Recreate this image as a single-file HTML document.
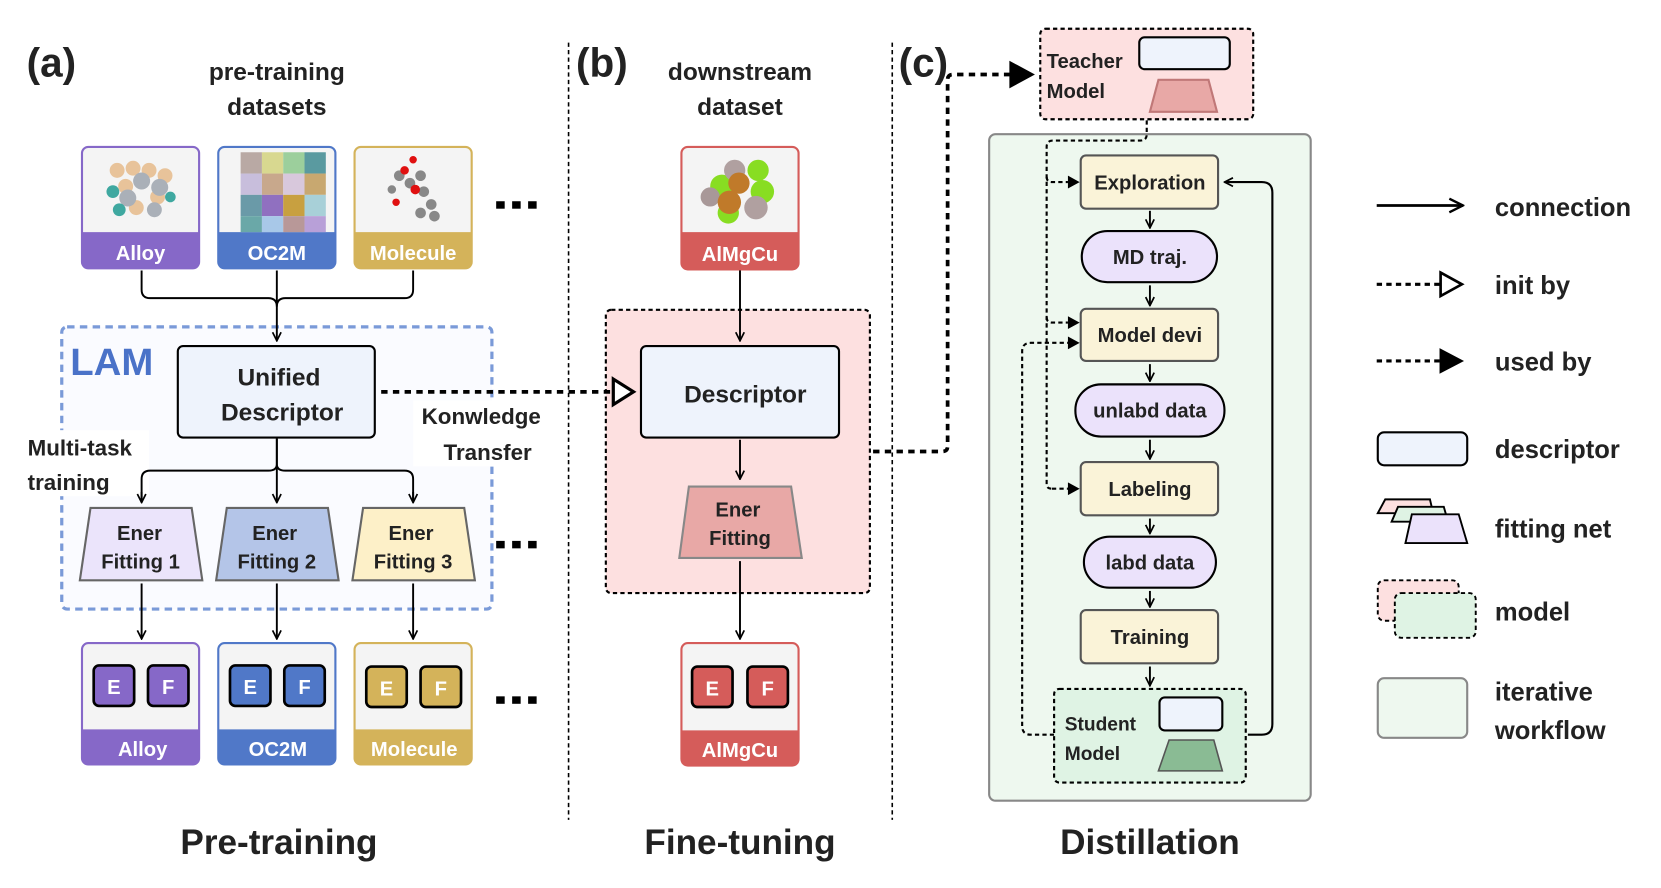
<!DOCTYPE html>
<html><head><meta charset="utf-8"><style>
html,body{margin:0;padding:0;background:#fff;}
svg{display:block;}
text{font-family:"Liberation Sans",sans-serif;font-weight:bold;fill:#222;}
.w{font-family:"Liberation Sans",sans-serif;}
</style></head><body>
<svg width="1661" height="888" viewBox="0 0 1560 834" preserveAspectRatio="none" xmlns="http://www.w3.org/2000/svg">
<defs>
<marker id="ar" viewBox="0 0 10 10" refX="9" refY="5" markerWidth="10" markerHeight="10" orient="auto" markerUnits="userSpaceOnUse"><path d="M1,1 L9,5 L1,9" fill="none" stroke="#000" stroke-width="1.6"/></marker>
<marker id="ar2" viewBox="0 0 10 10" refX="9" refY="5" markerWidth="16" markerHeight="16" orient="auto" markerUnits="userSpaceOnUse"><path d="M1,1 L9,5 L1,9" fill="none" stroke="#000" stroke-width="1.4"/></marker>
</defs>

<!-- separators -->
<line x1="534" y1="40" x2="534" y2="770" stroke="#000" stroke-width="1.5" stroke-dasharray="4,3"/>
<line x1="838" y1="40" x2="838" y2="770" stroke="#000" stroke-width="1.5" stroke-dasharray="4,3"/>

<!-- (a) -->
<text x="25" y="72" font-size="38" class="w">(a)</text>
<text x="260" y="75" font-size="23" text-anchor="middle">pre-training</text>
<text x="260" y="108" font-size="23" text-anchor="middle">datasets</text>

<g>
<rect x="77" y="138" width="110" height="114" rx="6" fill="#f4f4f4" stroke="#8668c8" stroke-width="2"/>
<path d="M77,218 H187 V246 a6,6 0 0 1 -6,6 H83 a6,6 0 0 1 -6,-6z" fill="#8668c8"/>
<text x="132" y="244" font-size="19" text-anchor="middle" style="fill:#fff">Alloy</text>
<g fill="#e8c39a"><circle cx="110" cy="160" r="7"/><circle cx="125" cy="158" r="7"/><circle cx="140" cy="160" r="7"/><circle cx="155" cy="165" r="7"/><circle cx="118" cy="175" r="7"/><circle cx="148" cy="185" r="7"/><circle cx="128" cy="195" r="7"/></g>
<g fill="#aab0b8"><circle cx="133" cy="170" r="8"/><circle cx="150" cy="176" r="8"/><circle cx="120" cy="186" r="8"/><circle cx="145" cy="197" r="7"/></g>
<g fill="#3fa8a0"><circle cx="106" cy="180" r="6"/><circle cx="112" cy="197" r="6"/><circle cx="160" cy="185" r="5"/></g>

<rect x="205" y="138" width="110" height="114" rx="6" fill="#f4f4f4" stroke="#5078c8" stroke-width="2"/>
<path d="M205,218 H315 V246 a6,6 0 0 1 -6,6 H211 a6,6 0 0 1 -6,-6z" fill="#5078c8"/>
<text x="260" y="244" font-size="19" text-anchor="middle" style="fill:#fff">OC2M</text>
<rect x="226" y="143" width="20" height="20" fill="#b9a9a4"/><rect x="246" y="143" width="20" height="20" fill="#d8d890"/><rect x="266" y="143" width="20" height="20" fill="#9ccf9c"/><rect x="286" y="143" width="20" height="20" fill="#5a9aa0"/>
<rect x="226" y="163" width="20" height="20" fill="#c8bedc"/><rect x="246" y="163" width="20" height="20" fill="#c8a88c"/><rect x="266" y="163" width="20" height="20" fill="#d8c8dc"/><rect x="286" y="163" width="20" height="20" fill="#c8a870"/>
<rect x="226" y="183" width="20" height="20" fill="#6a9aa8"/><rect x="246" y="183" width="20" height="20" fill="#9070c0"/><rect x="266" y="183" width="20" height="20" fill="#c8a040"/><rect x="286" y="183" width="20" height="20" fill="#a8d0d8"/>
<rect x="226" y="203" width="20" height="15" fill="#6aa8a8"/><rect x="246" y="203" width="20" height="15" fill="#a8c8e8"/><rect x="266" y="203" width="20" height="15" fill="#b89898"/><rect x="286" y="203" width="20" height="15" fill="#b8a0d8"/>

<rect x="333" y="138" width="110" height="114" rx="6" fill="#f4f4f4" stroke="#d4b35a" stroke-width="2"/>
<path d="M333,218 H443 V246 a6,6 0 0 1 -6,6 H339 a6,6 0 0 1 -6,-6z" fill="#d4b35a"/>
<text x="388" y="244" font-size="19" text-anchor="middle" style="fill:#fff">Molecule</text>
<g fill="#888"><circle cx="375" cy="165" r="5"/><circle cx="385" cy="172" r="5"/><circle cx="395" cy="165" r="5"/><circle cx="398" cy="180" r="5"/><circle cx="405" cy="192" r="5"/><circle cx="395" cy="200" r="5"/><circle cx="408" cy="203" r="5"/><circle cx="368" cy="178" r="4"/></g>
<g fill="#e01010"><circle cx="380" cy="160" r="4"/><circle cx="388" cy="150" r="3.5"/><circle cx="390" cy="178" r="4.5"/><circle cx="372" cy="190" r="3.5"/></g>
</g>
<g fill="#000">
<rect x="466" y="189" width="8" height="7"/><rect x="481" y="189" width="8" height="7"/><rect x="496" y="189" width="8" height="7"/>
<rect x="466" y="508" width="8" height="7"/><rect x="481" y="508" width="8" height="7"/><rect x="496" y="508" width="8" height="7"/>
<rect x="466" y="654" width="8" height="7"/><rect x="481" y="654" width="8" height="7"/><rect x="496" y="654" width="8" height="7"/>
</g>

<path d="M133,254 V272 q0,8 8,8 H252 q8,0 8,8 M388,254 V272 q0,8 -8,8 H268 q-8,0 -8,8" fill="none" stroke="#000" stroke-width="1.8"/>

<!-- LAM -->
<rect x="58" y="307" width="404" height="265" rx="5" fill="#fafbff" stroke="#7a9ad8" stroke-width="3" stroke-dasharray="7,5"/>
<line x1="260" y1="254" x2="260" y2="320" stroke="#000" stroke-width="1.8" marker-end="url(#ar)"/>
<rect x="20" y="404" width="120" height="62" fill="#fff"/>
<rect x="388" y="376" width="125" height="62" fill="#fff"/>
<text x="66" y="352" font-size="36" class="w" style="fill:#4a72c8">LAM</text>
<rect x="167" y="325" width="185" height="86" rx="5" fill="#eef3fc" stroke="#000" stroke-width="2"/>
<text x="262" y="362" font-size="23" text-anchor="middle">Unified</text>
<text x="265" y="395" font-size="23" text-anchor="middle">Descriptor</text>
<text x="26" y="428" font-size="21">Multi-task</text>
<text x="26" y="460" font-size="21">training</text>
<text x="452" y="398" font-size="21" text-anchor="middle">Konwledge</text>
<text x="458" y="432" font-size="21" text-anchor="middle">Transfer</text>

<path d="M260,412 V436 q0,6 -8,6 H141 q-8,0 -8,8 V470 M260,436 q0,6 8,6 H380 q8,0 8,8 V470" fill="none" stroke="#000" stroke-width="1.8"/>
<line x1="133" y1="462" x2="133" y2="472" stroke="#000" stroke-width="1.8" marker-end="url(#ar)"/>
<line x1="260" y1="412" x2="260" y2="472" stroke="#000" stroke-width="1.8" marker-end="url(#ar)"/>
<line x1="388" y1="462" x2="388" y2="472" stroke="#000" stroke-width="1.8" marker-end="url(#ar)"/>

<path d="M85,477 H180 L190,545 H75z" fill="#ebe4fb" stroke="#666" stroke-width="2"/>
<path d="M213,477 H308 L318,545 H203z" fill="#b4c5e8" stroke="#666" stroke-width="2"/>
<path d="M341,477 H436 L446,545 H331z" fill="#fdf0c8" stroke="#666" stroke-width="2"/>
<text x="131" y="507" font-size="19" text-anchor="middle">Ener</text><text x="132" y="534" font-size="19" text-anchor="middle">Fitting 1</text>
<text x="258" y="507" font-size="19" text-anchor="middle">Ener</text><text x="260" y="534" font-size="19" text-anchor="middle">Fitting 2</text>
<text x="386" y="507" font-size="19" text-anchor="middle">Ener</text><text x="388" y="534" font-size="19" text-anchor="middle">Fitting 3</text>

<line x1="133" y1="548" x2="133" y2="600" stroke="#000" stroke-width="1.8" marker-end="url(#ar)"/>
<line x1="260" y1="548" x2="260" y2="600" stroke="#000" stroke-width="1.8" marker-end="url(#ar)"/>
<line x1="388" y1="548" x2="388" y2="600" stroke="#000" stroke-width="1.8" marker-end="url(#ar)"/>

<g>
<rect x="77" y="604" width="110" height="114" rx="6" fill="#f4f4f4" stroke="#8668c8" stroke-width="2"/>
<path d="M77,685 H187 V712 a6,6 0 0 1 -6,6 H83 a6,6 0 0 1 -6,-6z" fill="#8668c8"/>
<text x="134" y="710" font-size="19" text-anchor="middle" style="fill:#fff">Alloy</text>
<rect x="88" y="625" width="38" height="38" rx="5" fill="#8668c8" stroke="#000" stroke-width="2.5"/><rect x="139" y="625" width="38" height="38" rx="5" fill="#8668c8" stroke="#000" stroke-width="2.5"/>
<text x="107" y="652" font-size="19" text-anchor="middle" style="fill:#fff">E</text><text x="158" y="652" font-size="19" text-anchor="middle" style="fill:#fff">F</text>

<rect x="205" y="604" width="110" height="114" rx="6" fill="#f4f4f4" stroke="#5078c8" stroke-width="2"/>
<path d="M205,685 H315 V712 a6,6 0 0 1 -6,6 H211 a6,6 0 0 1 -6,-6z" fill="#5078c8"/>
<text x="261" y="710" font-size="19" text-anchor="middle" style="fill:#fff">OC2M</text>
<rect x="216" y="625" width="38" height="38" rx="5" fill="#5078c8" stroke="#000" stroke-width="2.5"/><rect x="267" y="625" width="38" height="38" rx="5" fill="#5078c8" stroke="#000" stroke-width="2.5"/>
<text x="235" y="652" font-size="19" text-anchor="middle" style="fill:#fff">E</text><text x="286" y="652" font-size="19" text-anchor="middle" style="fill:#fff">F</text>

<rect x="333" y="604" width="110" height="114" rx="6" fill="#f4f4f4" stroke="#d4b35a" stroke-width="2"/>
<path d="M333,685 H443 V712 a6,6 0 0 1 -6,6 H339 a6,6 0 0 1 -6,-6z" fill="#d4b35a"/>
<text x="389" y="710" font-size="19" text-anchor="middle" style="fill:#fff">Molecule</text>
<rect x="344" y="626" width="38" height="38" rx="5" fill="#d4b35a" stroke="#000" stroke-width="2.5"/><rect x="395" y="626" width="38" height="38" rx="5" fill="#d4b35a" stroke="#000" stroke-width="2.5"/>
<text x="363" y="653" font-size="19" text-anchor="middle" style="fill:#fff">E</text><text x="414" y="653" font-size="19" text-anchor="middle" style="fill:#fff">F</text>
</g>

<text x="262" y="802" font-size="33" text-anchor="middle">Pre-training</text>
<text x="695" y="802" font-size="33" text-anchor="middle">Fine-tuning</text>
<text x="1080" y="802" font-size="33" text-anchor="middle">Distillation</text>

<!-- (b) -->
<text x="541" y="72" font-size="38" class="w">(b)</text>
<text x="695" y="75" font-size="23" text-anchor="middle">downstream</text>
<text x="695" y="108" font-size="23" text-anchor="middle">dataset</text>
<rect x="640" y="138" width="110" height="115" rx="6" fill="#f4f4f4" stroke="#d55c5a" stroke-width="2"/>
<path d="M640,218 H750 V247 a6,6 0 0 1 -6,6 H646 a6,6 0 0 1 -6,-6z" fill="#d55c5a"/>
<text x="695" y="245" font-size="19" text-anchor="middle" style="fill:#fff">AlMgCu</text>
<circle cx="712" cy="160" r="10" fill="#88dd22"/><circle cx="678" cy="175" r="11" fill="#88dd22"/><circle cx="716" cy="180" r="11" fill="#88dd22"/><circle cx="684" cy="200" r="10" fill="#88dd22"/>
<circle cx="690" cy="160" r="10" fill="#b0a0a0"/><circle cx="710" cy="195" r="11" fill="#b0a0a0"/><circle cx="667" cy="185" r="9" fill="#a89898"/>
<circle cx="694" cy="172" r="10" fill="#c07a2a"/><circle cx="685" cy="190" r="11" fill="#c07a2a"/>
<rect x="569" y="291" width="248" height="266" rx="5" fill="#fde0e0" stroke="#000" stroke-width="2" stroke-dasharray="4,3"/>
<line x1="695" y1="254" x2="695" y2="320" stroke="#000" stroke-width="1.8" marker-end="url(#ar)"/>
<rect x="602" y="325" width="186" height="86" rx="5" fill="#eef3fc" stroke="#000" stroke-width="2"/>
<text x="700" y="378" font-size="23" text-anchor="middle">Descriptor</text>
<line x1="695" y1="413" x2="695" y2="450" stroke="#000" stroke-width="1.8" marker-end="url(#ar)"/>
<path d="M647,457 H743 L753,524 H638z" fill="#e8a8a6" stroke="#888" stroke-width="2"/>
<text x="693" y="485" font-size="19" text-anchor="middle">Ener</text><text x="695" y="512" font-size="19" text-anchor="middle">Fitting</text>
<line x1="695" y1="527" x2="695" y2="600" stroke="#000" stroke-width="1.8" marker-end="url(#ar)"/>
<rect x="640" y="604" width="110" height="115" rx="6" fill="#f4f4f4" stroke="#d55c5a" stroke-width="2"/>
<path d="M640,686 H750 V713 a6,6 0 0 1 -6,6 H646 a6,6 0 0 1 -6,-6z" fill="#d55c5a"/>
<text x="695" y="711" font-size="19" text-anchor="middle" style="fill:#fff">AlMgCu</text>
<rect x="650" y="626" width="38" height="38" rx="5" fill="#d55c5a" stroke="#000" stroke-width="2.5"/><rect x="702" y="626" width="38" height="38" rx="5" fill="#d55c5a" stroke="#000" stroke-width="2.5"/>
<text x="669" y="653" font-size="19" text-anchor="middle" style="fill:#fff">E</text><text x="721" y="653" font-size="19" text-anchor="middle" style="fill:#fff">F</text>

<!-- init-by connector (on top) -->
<line x1="358" y1="368" x2="574" y2="368" stroke="#000" stroke-width="3.5" stroke-dasharray="6,5"/>
<path d="M576,356 L595,368 L576,380z" fill="#fff" stroke="#000" stroke-width="3"/>

<path d="M820,424 H885 q5,0 5,-5 V75 q0,-5 5,-5 H950" fill="none" stroke="#000" stroke-width="3.5" stroke-dasharray="6,5"/>
<path d="M948,57 L972,70 L948,83z" fill="#000"/>

<!-- (c) -->
<text x="844" y="72" font-size="38" class="w">(c)</text>
<rect x="977" y="27" width="200" height="85" rx="5" fill="#fde0e0" stroke="#000" stroke-width="2" stroke-dasharray="4,3"/>
<text x="983" y="64" font-size="19">Teacher</text><text x="983" y="92" font-size="19">Model</text>
<rect x="1070" y="35" width="85" height="30" rx="5" fill="#eef3fc" stroke="#000" stroke-width="2"/>
<path d="M1088,75 H1135 L1143,105 H1080z" fill="#e8a8a6" stroke="#c07878" stroke-width="2"/>

<rect x="929" y="126" width="302" height="626" rx="6" fill="#eef8ef" stroke="#888" stroke-width="2"/>

<path d="M1077,113 V126 q0,6 -6,6 H989 q-6,0 -6,6 V455 q0,4 5,4" fill="none" stroke="#000" stroke-width="2" stroke-dasharray="4,3"/>
<path d="M983,166 q0,5 5,5 H1003 M983,298 q0,5 5,5 H1003" fill="none" stroke="#000" stroke-width="2" stroke-dasharray="4,3"/>
<line x1="988" y1="459" x2="1003" y2="459" stroke="#000" stroke-width="2" stroke-dasharray="4,3"/>
<path d="M1003,165 L1014,171 L1003,177z M1003,297 L1014,303 L1003,309z M1003,453 L1014,459 L1003,465z M1003,316 L1014,322 L1003,328z" fill="#000"/>
<path d="M990,690 H968 q-8,0 -8,-8 V330 q0,-8 8,-8 H1003" fill="none" stroke="#000" stroke-width="2" stroke-dasharray="4,3"/>

<rect x="1015" y="146" width="129" height="50" rx="5" fill="#faf3d8" stroke="#555" stroke-width="2"/>
<text x="1080" y="178" font-size="19" text-anchor="middle">Exploration</text>
<rect x="1016" y="217" width="127" height="48" rx="24" fill="#ebe2fb" stroke="#000" stroke-width="2"/>
<text x="1080" y="248" font-size="19" text-anchor="middle">MD traj.</text>
<rect x="1015" y="290" width="129" height="49" rx="5" fill="#faf3d8" stroke="#555" stroke-width="2"/>
<text x="1080" y="321" font-size="19" text-anchor="middle">Model devi</text>
<rect x="1010" y="361" width="140" height="49" rx="24" fill="#ebe2fb" stroke="#000" stroke-width="2"/>
<text x="1080" y="392" font-size="19" text-anchor="middle">unlabd data</text>
<rect x="1015" y="434" width="129" height="50" rx="5" fill="#faf3d8" stroke="#555" stroke-width="2"/>
<text x="1080" y="466" font-size="19" text-anchor="middle">Labeling</text>
<rect x="1018" y="504" width="124" height="48" rx="24" fill="#ebe2fb" stroke="#000" stroke-width="2"/>
<text x="1080" y="535" font-size="19" text-anchor="middle">labd data</text>
<rect x="1015" y="573" width="129" height="50" rx="5" fill="#faf3d8" stroke="#555" stroke-width="2"/>
<text x="1080" y="605" font-size="19" text-anchor="middle">Training</text>
<g stroke="#000" stroke-width="1.8">
<line x1="1080" y1="198" x2="1080" y2="214" marker-end="url(#ar)"/>
<line x1="1080" y1="268" x2="1080" y2="287" marker-end="url(#ar)"/>
<line x1="1080" y1="342" x2="1080" y2="358" marker-end="url(#ar)"/>
<line x1="1080" y1="413" x2="1080" y2="431" marker-end="url(#ar)"/>
<line x1="1080" y1="487" x2="1080" y2="501" marker-end="url(#ar)"/>
<line x1="1080" y1="555" x2="1080" y2="570" marker-end="url(#ar)"/>
<line x1="1080" y1="626" x2="1080" y2="644" marker-end="url(#ar)"/>
</g>
<rect x="990" y="647" width="180" height="88" rx="5" fill="#dff3e4" stroke="#000" stroke-width="2" stroke-dasharray="4,3"/>
<text x="1000" y="686" font-size="18">Student</text><text x="1000" y="714" font-size="18">Model</text>
<rect x="1089" y="655" width="59" height="31" rx="5" fill="#eef3fc" stroke="#000" stroke-width="2"/>
<path d="M1098,695 H1140 L1148,724 H1088z" fill="#8abb94" stroke="#555" stroke-width="1.5"/>
<path d="M1172,690 H1185 q10,0 10,-10 V181 q0,-10 -10,-10 H1150" fill="none" stroke="#000" stroke-width="2" marker-end="url(#ar)"/>

<!-- legend -->
<line x1="1293" y1="193" x2="1374" y2="193" stroke="#000" stroke-width="2.5" marker-end="url(#ar2)"/>
<text x="1404" y="203" font-size="24">connection</text>
<line x1="1293" y1="267" x2="1352" y2="267" stroke="#000" stroke-width="3" stroke-dasharray="5,4"/>
<path d="M1353,256 L1373,267 L1353,278z" fill="#fff" stroke="#000" stroke-width="2.5"/>
<text x="1404" y="276" font-size="24">init by</text>
<line x1="1293" y1="339" x2="1352" y2="339" stroke="#000" stroke-width="3" stroke-dasharray="5,4"/>
<path d="M1352,327 L1375,339 L1352,351z" fill="#000"/>
<text x="1404" y="348" font-size="24">used by</text>
<rect x="1294" y="406" width="84" height="31" rx="6" fill="#eef3fc" stroke="#000" stroke-width="2"/>
<text x="1404" y="430" font-size="24">descriptor</text>
<path d="M1301,469 H1343 L1346,482 H1294z" fill="#fde0e0" stroke="#000" stroke-width="1.8"/>
<path d="M1313,476 H1356 L1360,490 H1307z" fill="#dff3e4" stroke="#000" stroke-width="1.8"/>
<path d="M1326,483 H1370 L1378,510 H1320z" fill="#ebe2fb" stroke="#000" stroke-width="1.8"/>
<text x="1404" y="505" font-size="24">fitting net</text>
<rect x="1294" y="545" width="76" height="38" rx="6" fill="#fde0e0" stroke="#000" stroke-width="1.8" stroke-dasharray="4,3"/>
<rect x="1310" y="557" width="76" height="42" rx="6" fill="#dff3e4" stroke="#000" stroke-width="1.8" stroke-dasharray="4,3"/>
<text x="1404" y="583" font-size="24">model</text>
<rect x="1294" y="637" width="84" height="56" rx="6" fill="#eef8ef" stroke="#888" stroke-width="2"/>
<text x="1404" y="658" font-size="24">iterative</text>
<text x="1404" y="694" font-size="24">workflow</text>
</svg>
</body></html>
